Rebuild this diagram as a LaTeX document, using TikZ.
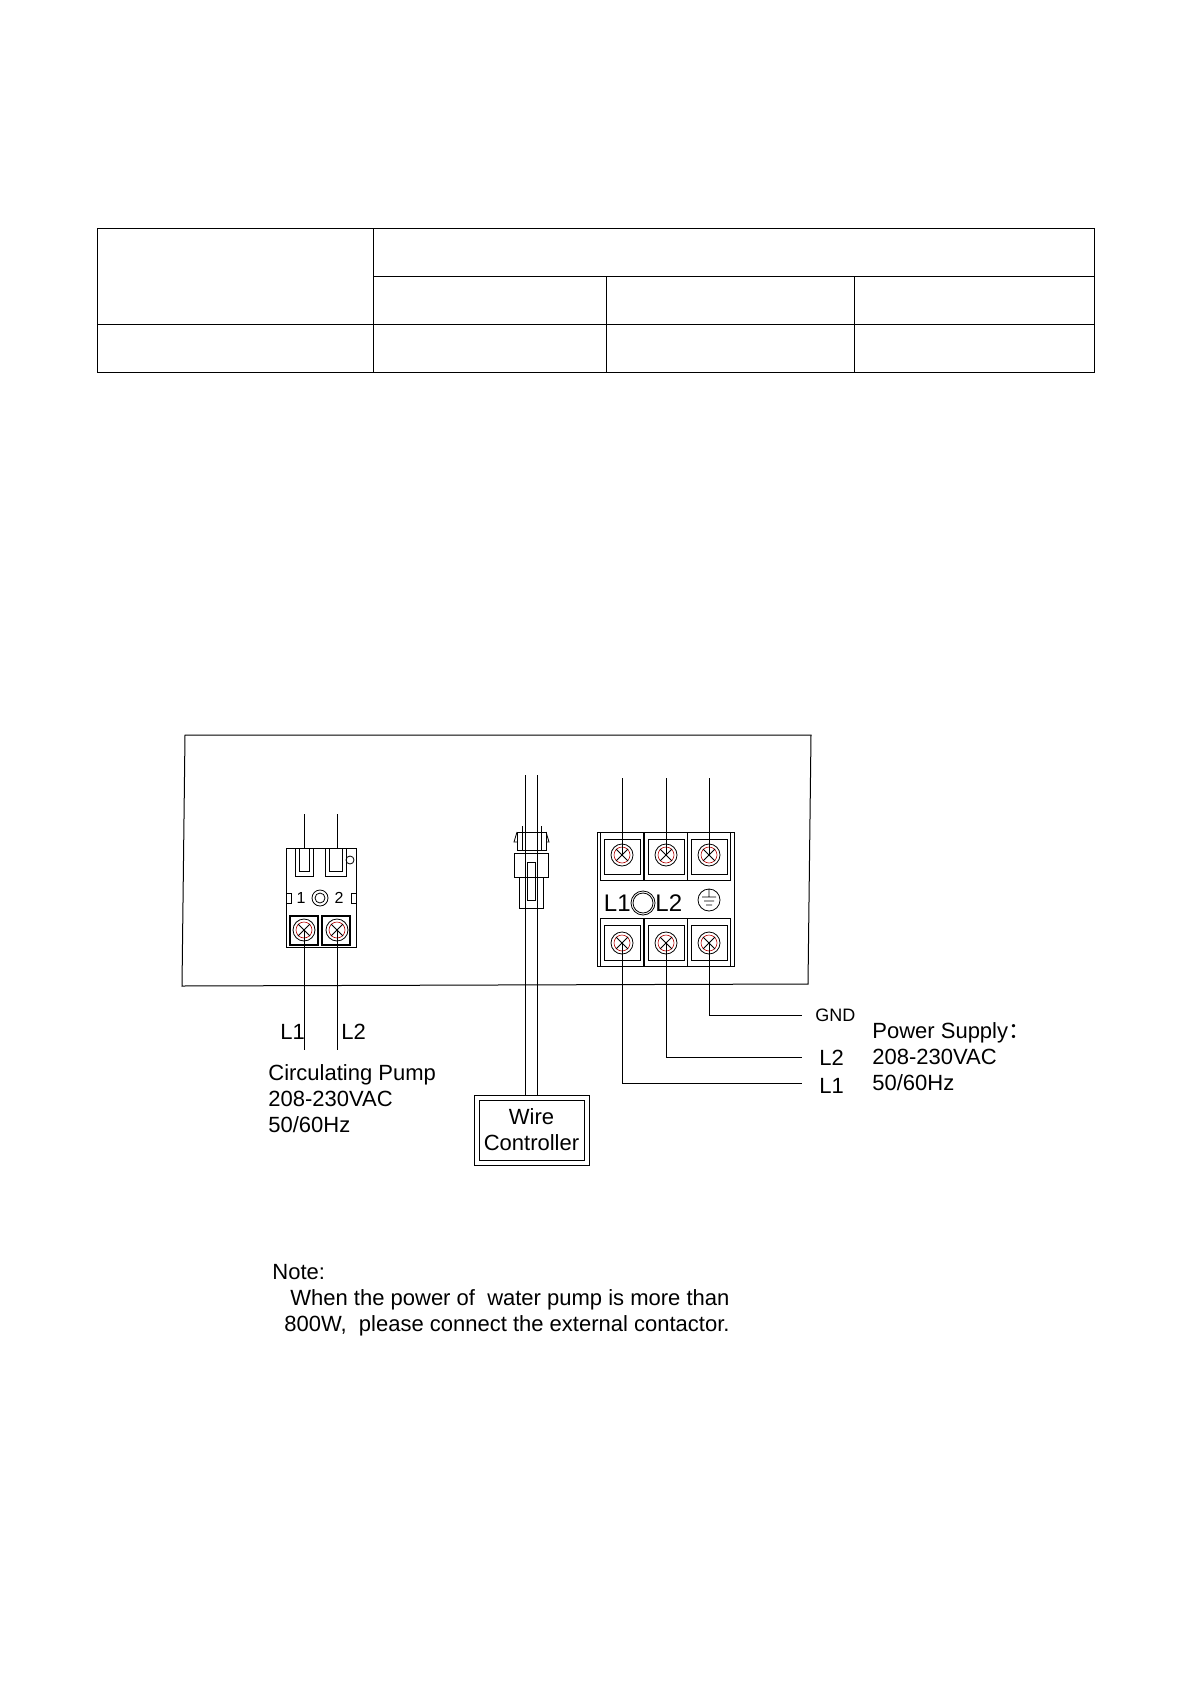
\documentclass[tikz,border=0pt]{standalone}
\usepackage{fontspec}
\setmainfont{Liberation Sans}
\newfontfamily\cjk{Noto Sans CJK SC}
\usetikzlibrary{positioning}
\tikzset{
  wire/.style={draw, line width=0.5pt},
  frame/.style={draw, line width=0.5pt},
  lbl/.style={font=\fontsize{11}{13}\selectfont, inner sep=0pt},
  small/.style={font=\fontsize{8}{9}\selectfont, inner sep=0pt},
}
\newcommand{\screwat}[2]{%
  \draw[line width=0.4pt] (#1,#2) circle (11);
  \draw[red!70!black, line width=0.3pt] (#1,#2) circle (8);
  \draw[line width=0.4pt] (#1-6,#2-6) -- (#1+6,#2+6) (#1-6,#2+6) -- (#1+6,#2-6);}
\begin{document}
\begin{tikzpicture}[x=0.5pt, y=-0.5pt]
\useasboundingbox (0,0) rectangle (1191,1684);
% table
\draw[frame] (97,229) rectangle (1094,373);
\draw[frame] (373,229) -- (373,373)
             (373,277) -- (1094,277)
             (97,325) -- (1094,325)
             (606,277) -- (606,373)
             (854,277) -- (854,373);
% housing
\draw[frame] (185,735) -- (811,735) -- (808,984) -- (182,986) -- cycle;
% pump terminal
\node[draw, minimum width=35pt, minimum height=49.5pt, inner sep=0pt] (pump) at (321,897.5) {};
\coordinate (p1) at (304,814);
\coordinate (p2) at (337,814);
\draw (295,848) rectangle (313,876) (299,848) -- (299,871) -- (309,871) -- (309,848);
\draw (325,848) rectangle (346,876) (329,848) -- (329,871) -- (342,871) -- (342,848);
\draw (350,860) circle (4);
\draw (286,893) rectangle (291,903) (351,893) rectangle (356,903);
\node[small] at (301,898) {1};
\node[small] at (339,898) {2};
\draw (320,898) circle (8) (320,898) circle (5);
\draw[line width=0.8pt] (290,916) rectangle (318,945) (322,916) rectangle (350,945);
\screwat{304}{930}
\screwat{337}{930}
\draw[wire] (p1) -- (304,848) (p2) -- (337,848);
\coordinate (pe1) at (304,1050);
\coordinate (pe2) at (337,1050);
\draw[wire] (304,930) -- (pe1) (337,930) -- (pe2);
\node[lbl, anchor=west] (pl1) at (280,1032) {L1};
\node[lbl, anchor=west] (pl2) at (341,1032) {L2};
\node[lbl, anchor=north west, align=left] (pumptxt) at (268,1064)
  {Circulating Pump\\208-230VAC\\50/60Hz};
% plug connector
\coordinate (c1) at (525,775);
\coordinate (c2) at (537,775);
\draw (517,832) rectangle (546,850) (522,826) -- (522,850) (541,826) -- (541,850);
\draw (517,832) -- (514,842) -- (517,842) (546,832) -- (549,842) -- (546,842);
\draw (514,853) rectangle (548,877) (519,877) -- (519,908) -- (543,908) -- (543,877);
\draw (527,862) rectangle (535,900);
\node[draw, minimum width=57.5pt, minimum height=35pt, inner sep=0pt] (ctrl) at (531.5,1130) {};
\node[draw, minimum width=52.5pt, minimum height=30pt, lbl, align=center] (ctrlin) at (ctrl) {Wire\\Controller};
\draw[wire] (c1) -- (525,1095) (c2) -- (537,1095);
% power terminal block
\node[draw, minimum width=68.5pt, minimum height=67pt, inner sep=0pt] (tb) at (665.5,899) {};
\foreach \x in {622,666,709} {
  \draw (\x-22,832) -- (\x-22,880) -- (\x+21,880) -- (\x+21,832);
  \draw (\x-18,839) rectangle (\x+18,874);
  \draw (\x-22,966) -- (\x-22,918) -- (\x+21,918) -- (\x+21,966);
  \draw (\x-18,925) rectangle (\x+18,960);
  \screwat{\x}{855}
  \screwat{\x}{943}
  \draw[wire] (\x,778) -- (\x,855);
}
\node[lbl, anchor=east, font=\fontsize{12}{14}\selectfont] (tl1) at (631,903) {L1};
\draw (643,903) circle (12) (643,903) circle (10);
\node[lbl, anchor=west, font=\fontsize{12}{14}\selectfont] (tl2) at (655,903) {L2};
\draw (709,900) circle (11) (702,897) -- (716,897) (704,901) -- (714,901) (706,905) -- (712,905) (709,889) -- (709,897);
\coordinate (gnd) at (802,1015);
\coordinate (l2) at (802,1057);
\coordinate (l1) at (802,1083);
\draw[wire] (709,943) |- (gnd) (666,943) |- (l2) (622,943) |- (l1);
\node[lbl, anchor=west, font=\fontsize{9}{11}\selectfont] (gndt) at (815,1015) {GND};
\node[lbl, anchor=west] (l2t) at (819,1058) {L2};
\node[lbl, anchor=west] (l1t) at (819,1086) {L1};
\node[lbl, anchor=north west, align=left] (pstxt) at (872,1022)
  {Power Supply{\cjk ：}\\208-230VAC\\50/60Hz};
% note
\node[lbl, anchor=north west, align=left] (note) at (272,1264)
  {Note:\\\hspace{9pt}When the power of\ \ water pump is more than\\\hspace{6pt}800W,\ \ please connect the external contactor.};
\end{tikzpicture}
\end{document}
